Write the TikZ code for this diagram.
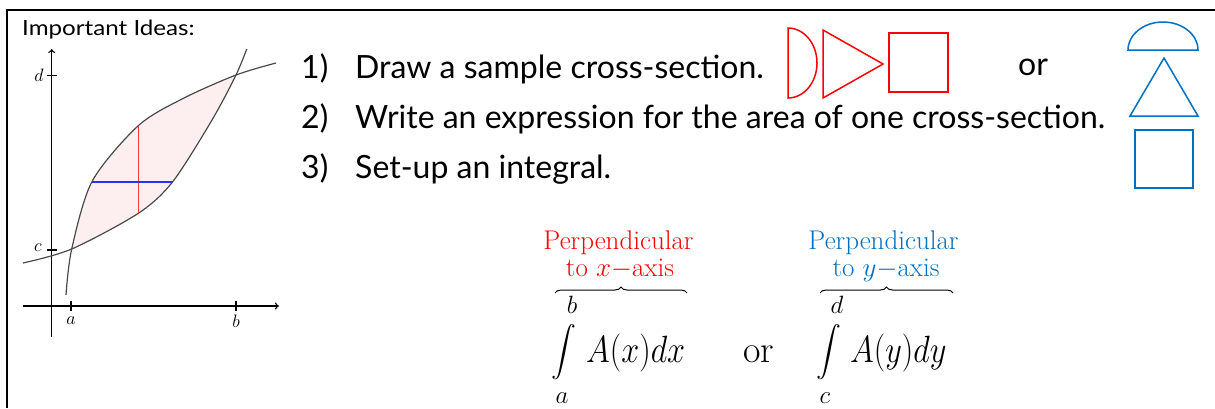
\RequirePackage{fix-cm}
\documentclass[tikz,border=0pt]{standalone}
\usepackage{amsmath}
\usepackage{fontspec}
\usepackage{graphicx}
\newfontfamily\ideafont{Lato}
\usetikzlibrary{arrows.meta,decorations.pathreplacing}
\definecolor{redline}{HTML}{FF0000}
\definecolor{blueline}{HTML}{0070C0}
\definecolor{pinkfill}{HTML}{FDEFEF}
\definecolor{curvegray}{HTML}{4A4A4A}
\definecolor{crossred}{HTML}{F23B3B}
\definecolor{crossblue}{HTML}{2E2EF5}

\begin{document}
\begin{tikzpicture}[x=1pt,y=-1pt,
  frame/.style={line width=2pt},
  axis/.style={line width=1.1pt,-{To[length=4pt,width=7pt]}},
  tick/.style={line width=1.1pt},
  curve/.style={draw=curvegray,line width=1.2pt},
  ticklabel/.style={inner sep=0pt,font=\fontsize{18}{20}\selectfont},
  item/.style={anchor=base west,inner sep=0pt,font=\ideafont\fontsize{32}{36}\selectfont},
  redshape/.style={draw=redline,line width=1.5pt},
  blueshape/.style={draw=blueline,line width=1.5pt},
  perp/.style={anchor=base,inner sep=0pt,font=\fontsize{27}{29}\selectfont},
  intsign/.style={inner sep=0pt,font=\fontsize{42}{46}\selectfont},
  limit/.style={inner sep=0pt,font=\fontsize{25}{28}\selectfont},
  integrand/.style={anchor=base west,inner sep=0pt,font=\fontsize{38}{42}\selectfont},
  overbrace/.style={decorate,decoration={brace,amplitude=6pt},line width=1pt}
]
\useasboundingbox (0,0) rectangle (1215,408);
% frame and title
\draw[frame] (7,408) -- (7,10) -- (1215,10);
\node[anchor=base west,inner sep=0pt,font=\ideafont\fontsize{21}{24}\selectfont] (title) at (22,35.5) {\scalebox{1.15}[1]{Important Ideas:}};

% shaded region between the curves
\fill[pinkfill] plot[smooth] coordinates {(71.7,249) (92.3,181) (138.3,125.7) (183,98.5) (236,75)}
  -- plot[smooth] coordinates {(236,75) (212,120) (172.7,181.7) (138.3,213.3) (71.7,249)} -- cycle;

% axes
\draw[axis] (23,306) -- (279,306);
\draw[axis] (51.7,337) -- (51.7,49);
\draw[tick] (71,301) -- (71,311);
\draw[tick] (236,301) -- (236,311);
\draw[tick] (46.7,250) -- (56.7,250);
\draw[tick] (46.7,75.7) -- (56.7,75.7);
\node[ticklabel] (lblA) at (71,321) {$a$};
\node[ticklabel] (lblB) at (236,321) {$b$};
\node[ticklabel] (lblC) at (38,248) {$c$};
\node[ticklabel] (lblD) at (39,75) {$d$};

% curves
\draw[curve] plot[smooth] coordinates {(66,295) (71.7,249) (92.3,181) (138.3,125.7) (183,98.5) (236,75) (276,63)};
\draw[curve] plot[smooth] coordinates {(23,263) (71.7,249) (138.3,213.3) (172.7,181.7) (212,120) (236,75) (246.7,49)};

% sample cross-sections
\draw[draw=crossred,line width=1.4pt] (138.3,125.7) -- (138.3,213.3);
\draw[draw=crossblue,line width=1.3pt] (92.3,182) -- (172.7,182);

% steps
\node[item] (num1) at (301,78) {1)};
\node[item] (step1) at (355,78) {Draw a sample cross-section.};
\node[item] (num2) at (301,128) {2)};
\node[item] (step2) at (355,128) {Write an expression for the area of one cross-section.};
\node[item] (num3) at (301,178) {3)};
\node[item] (step3) at (355,178) {Set-up an integral.};

% red shapes
\draw[redshape] (788,28) arc[start angle=90,end angle=-90,x radius=29pt,y radius=35pt] -- cycle;
\draw[redshape] (823,30) -- (883,64) -- (823,98) -- cycle;
\draw[redshape] (889,33) rectangle (948,92);
\node[item] (orShapes) at (1018,75) {or};

% blue shapes
\draw[blueshape] (1128,50) arc[start angle=180,end angle=0,x radius=35pt,y radius=28pt] -- cycle;
\draw[blueshape] (1164,58) -- (1198,116) -- (1130,116) -- cycle;
\draw[blueshape] (1135,130) rectangle (1193,188);

% integral in x
\node[perp,text=redline] (perpX) at (618.5,249) {Perpendicular};
\node[perp,text=redline] (toX) at (620,276) {to $x-$axis};
\draw[overbrace] (555,293) -- (687,293);
\node[intsign] (intX) at (564,352) {$\displaystyle\int$};
\node[limit] (upX) at (572,305) {$b$};
\node[limit] (lowX) at (562,398) {$a$};
\node[integrand] (bodyX) at (586,362) {\scalebox{0.85}[1]{$A(x)dx$}};

\node[integrand] (orInt) at (743,362) {or};

% integral in y
\node[perp,text=blueline] (perpY) at (883.5,249) {Perpendicular};
\node[perp,text=blueline] (toY) at (886,276) {to $y-$axis};
\draw[overbrace] (820,293) -- (953,293);
\node[intsign] (intY) at (829,352) {$\displaystyle\int$};
\node[limit] (upY) at (837,305) {$d$};
\node[limit] (lowY) at (825,398) {$c$};
\node[integrand] (bodyY) at (850,362) {\scalebox{0.85}[1]{$A(y)dy$}};
\end{tikzpicture}
\end{document}
